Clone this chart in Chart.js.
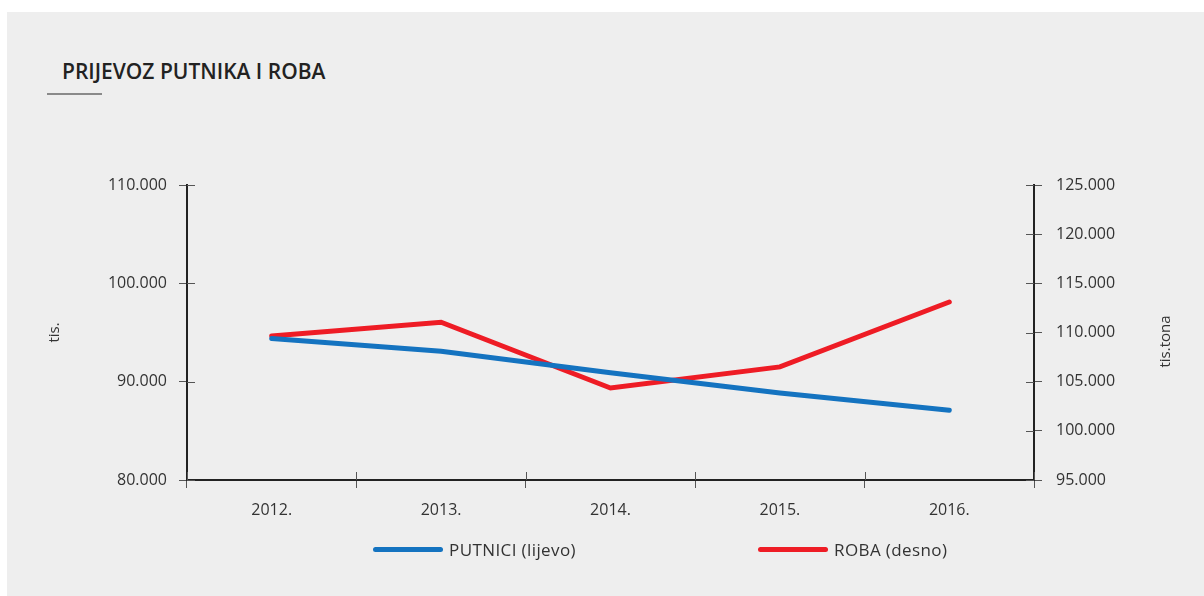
<!DOCTYPE html>
<html>
<head>
<meta charset="utf-8">
<script src="https://cdn.jsdelivr.net/npm/chart.js@4.4.0/dist/chart.umd.min.js"></script>
<style>
html,body{margin:0;padding:0;background:#ffffff;width:1204px;height:596px;overflow:hidden;font-family:"Open Sans",sans-serif;}
#panel{position:absolute;left:7px;top:12px;right:0;bottom:0;background:#eeeeee;}
#title{position:absolute;left:62px;top:57px;font-size:21px;font-weight:600;color:#222222;white-space:nowrap;}
#rule{position:absolute;left:47px;top:93px;width:55px;height:2px;background:#8a8a8a;}
#wrap{position:absolute;left:0;top:0;width:1204px;height:596px;}
.leg{position:absolute;top:538px;height:22px;display:flex;align-items:center;font-size:17px;letter-spacing:0.4px;color:#333333;white-space:nowrap;}
.leg .sw{width:70px;height:5px;border-radius:3px;margin-right:6px;}
</style>
</head>
<body>
<div id="panel"></div>
<div id="title">PRIJEVOZ PUTNIKA I ROBA</div>
<div id="rule"></div>
<div id="wrap"><canvas id="c" width="1204" height="596"></canvas></div>
<div id="legend"></div>
<script>
const categories = ["2012.", "2013.", "2014.", "2015.", "2016."];
const putnici = [94400, 93100, 90900, 88850, 87100];
const roba = [109650, 111050, 104350, 106500, 113100];
const seriesLabels = ["PUTNICI (lijevo)", "ROBA (desno)"];
const axisTitles = ["tis.", "tis.tona"];
const leftTicks = [80000, 110000, 10000];
const rightTicks = [95000, 125000, 5000];

const fmt = v => String(v).replace(/\B(?=(\d{3})+(?!\d))/g, ".");
const BLUE = "#1473c0", RED = "#ee1c25";
const tickFont = {family: "'Open Sans', sans-serif", size: 16};

const innerTicks = {
  id: "innerTicks",
  afterDraw(chart) {
    const ctx = chart.ctx, a = chart.chartArea, len = 8;
    ctx.save();
    ctx.strokeStyle = "#555555";
    ctx.lineWidth = 1;
    const yl = chart.scales.y, yr = chart.scales.y1, x = chart.scales.x;
    ctx.beginPath();
    yl.ticks.forEach((t, i) => { const p = Math.round(yl.getPixelForTick(i)) + 0.5; ctx.moveTo(a.left, p); ctx.lineTo(a.left + len, p); });
    yr.ticks.forEach((t, i) => { const p = Math.round(yr.getPixelForTick(i)) + 0.5; ctx.moveTo(a.right, p); ctx.lineTo(a.right - len, p); });
    const n = x.ticks.length, w = (x.right - x.left) / n;
    for (let i = 0; i <= n; i++) { const p = Math.round(x.left + i * w) + 0.5; ctx.moveTo(p, a.bottom); ctx.lineTo(p, a.bottom - len); }
    ctx.stroke();
    // right axis title (reads bottom to top)
    ctx.fillStyle = "#333333";
    ctx.font = "15px 'Open Sans', sans-serif";
    ctx.textAlign = "center";
    ctx.textBaseline = "middle";
    ctx.translate(yr.right - 38, (a.top + a.bottom) / 2 + 9);
    ctx.rotate(-Math.PI / 2);
    ctx.fillText(axisTitles[1], 0, 0);
    ctx.restore();
  }
};

const chart = new Chart(document.getElementById("c"), {
  type: "line",
  data: {
    labels: categories,
    datasets: [
      {label: seriesLabels[0], data: putnici, yAxisID: "y", borderColor: BLUE, backgroundColor: BLUE, borderWidth: 5, pointRadius: 0, borderCapStyle: "round", tension: 0},
      {label: seriesLabels[1], data: roba, yAxisID: "y1", borderColor: RED, backgroundColor: RED, borderWidth: 5, pointRadius: 0, borderCapStyle: "round", tension: 0}
    ]
  },
  options: {
    responsive: false,
    animation: false,
    devicePixelRatio: 1,
    layout: {padding: {top: 185, left: 0, right: 0, bottom: 0}},
    plugins: {legend: {display: false}, tooltip: {enabled: false}, title: {display: false}},
    scales: {
      x: {
        type: "category",
        offset: true,
        grid: {drawOnChartArea: false, offset: true, tickLength: 8, tickColor: "#555555", tickWidth: 1},
        border: {color: "#222222", width: 2},
        ticks: {color: "#333333", font: tickFont, padding: 13, maxRotation: 0},
        afterFit: s => { s.height = 116; }
      },
      y: {
        position: "left",
        min: leftTicks[0], max: leftTicks[1],
        grid: {drawOnChartArea: false, tickLength: 8, tickColor: "#555555", tickWidth: 1},
        border: {color: "#222222", width: 2},
        ticks: {stepSize: leftTicks[2], color: "#333333", font: tickFont, padding: 12, callback: v => fmt(v)},
        title: {display: true, text: axisTitles[0], color: "#333333", font: {family: "'Open Sans', sans-serif", size: 15}, padding: {top: 46, bottom: 0}},
        afterFit: s => { s.width = 187; }
      },
      y1: {
        position: "right",
        min: rightTicks[0], max: rightTicks[1],
        grid: {drawOnChartArea: false, tickLength: 8, tickColor: "#555555", tickWidth: 1},
        border: {color: "#222222", width: 2},
        ticks: {stepSize: rightTicks[2], color: "#333333", font: tickFont, padding: 14, callback: v => fmt(v)},
        afterFit: s => { s.width = 170; }
      }
    }
  },
  plugins: [innerTicks]
});

// HTML legend built from the datasets
const legendLefts = [373, 758];
chart.data.datasets.forEach((ds, i) => {
  const item = document.createElement("div");
  item.className = "leg";
  item.style.left = legendLefts[i] + "px";
  const sw = document.createElement("span");
  sw.className = "sw";
  sw.style.background = ds.borderColor;
  const tx = document.createElement("span");
  tx.textContent = ds.label;
  item.appendChild(sw);
  item.appendChild(tx);
  document.getElementById("legend").appendChild(item);
});
</script>
</body>
</html>
